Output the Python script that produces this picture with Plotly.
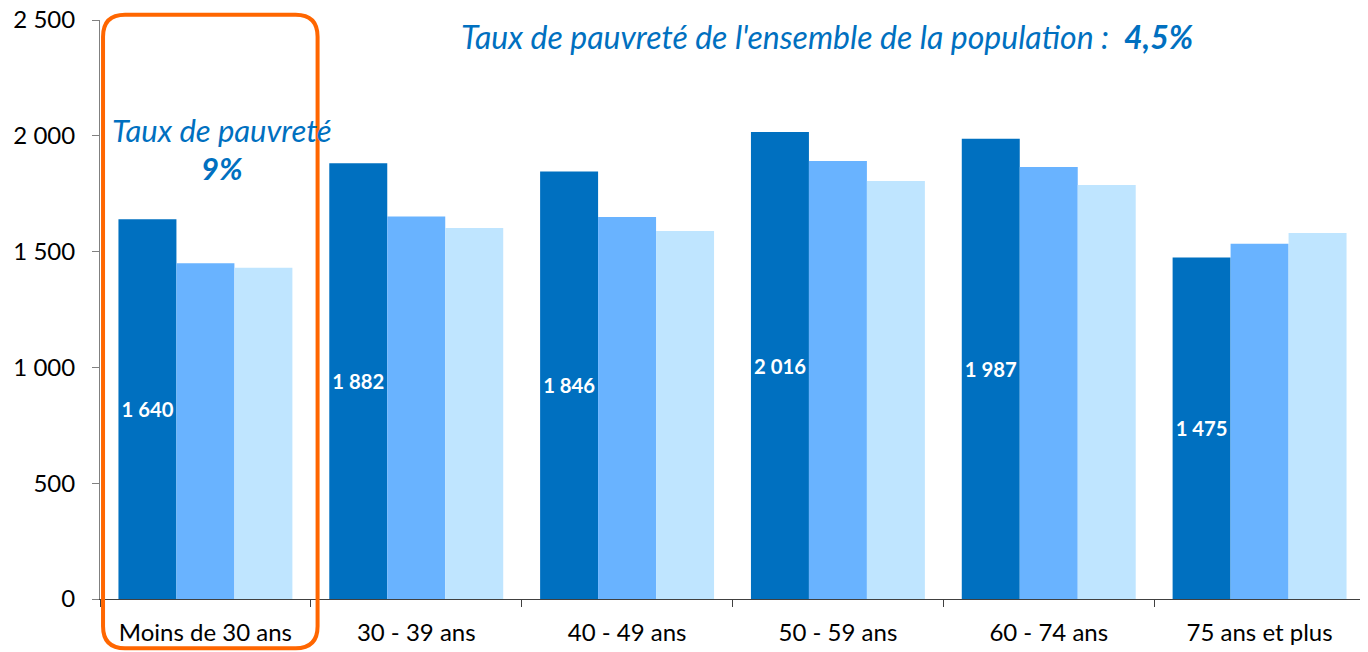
import plotly.graph_objects as go

# age groups and values
ages = ["Moins de 30 ans", "30 - 39 ans", "40 - 49 ans", "50 - 59 ans", "60 - 74 ans", "75 ans et plus"]
serie_1 = [1640, 1882, 1846, 2016, 1987, 1475]
serie_2 = [1450, 1652, 1649, 1891, 1865, 1534]
serie_3 = [1430, 1602, 1589, 1805, 1788, 1580]
y_ticks = [0, 500, 1000, 1500, 2000, 2500]

font_main = "Lato, 'Open Sans', sans-serif"
blue_txt = "#0070C0"

def fmt(v):
    return f"{v:,}".replace(",", " ")

fig = go.Figure()
fig.add_trace(go.Bar(x=ages, y=serie_1, marker_color="#0070C0",
                     marker_line_width=0,
                     text=[fmt(v) for v in serie_1], textposition="inside",
                     insidetextanchor="middle",
                     textfont=dict(color="white", size=21, family=font_main, weight="bold"),
                     textangle=0))
fig.add_trace(go.Bar(x=ages, y=serie_2, marker_color="#69B3FF", marker_line_width=0))
fig.add_trace(go.Bar(x=ages, y=serie_3, marker_color="#BFE5FF", marker_line_width=0))

# orange rounded frame around the first group (paper coordinates)
x0, x1, y0, y1 = 0.0024, 0.172, -0.085, 1.009
rx, ry = 22 / 1265, 22 / 579
path = (f"M {x0+rx},{y1} L {x1-rx},{y1} Q {x1},{y1} {x1},{y1-ry} "
        f"L {x1},{y0+ry} Q {x1},{y0} {x1-rx},{y0} "
        f"L {x0+rx},{y0} Q {x0},{y0} {x0},{y0+ry} "
        f"L {x0},{y1-ry} Q {x0},{y1} {x0+rx},{y1} Z")

fig.update_layout(
    width=1368, height=652,
    barmode="group", bargap=0.175, bargroupgap=0,
    showlegend=False,
    plot_bgcolor="white", paper_bgcolor="white",
    separators=", ",
    margin=dict(l=92, r=11, t=12, b=61),
    font=dict(family=font_main, size=24, color="black"),
    shapes=[dict(type="path", path=path, xref="paper", yref="paper",
                 line=dict(color="#FF6600", width=4), layer="above")],
    annotations=[
        dict(text="<i>Taux de pauvreté</i>", x=0.0964, y=2025, xref="paper", yref="y",
             xanchor="center", showarrow=False,
             font=dict(size=31, color=blue_txt, family=font_main)),
        dict(text="<b><i>9%</i></b>", x=0.0964, y=1862, xref="paper", yref="y",
             xanchor="center", showarrow=False,
             font=dict(size=31, color=blue_txt, family=font_main)),
        dict(text="<i>Taux de pauvreté de l'ensemble de la population :  <b>4,5%</b></i>",
             x=0.575, y=2427, xref="paper", yref="y", xanchor="center",
             showarrow=False, font=dict(size=32, color=blue_txt, family=font_main)),
    ],
)
fig.update_xaxes(showline=True, linecolor="#404040", linewidth=1, automargin=False,
                 ticks="outside", tickson="boundaries", ticklen=7, tickcolor="#404040",
                 tickfont=dict(size=24), ticklabelstandoff=12)
fig.update_yaxes(range=[0, 2500], tickvals=y_ticks, tickformat=",d",
                 showgrid=False, zeroline=False, automargin=False,
                 showline=True, linecolor="#808080", linewidth=1,
                 ticks="outside", ticklen=7, tickcolor="#808080",
                 tickfont=dict(size=24), ticklabelstandoff=12,
                 ticklabeloverflow="allow")

fig.write_html("out.html")
